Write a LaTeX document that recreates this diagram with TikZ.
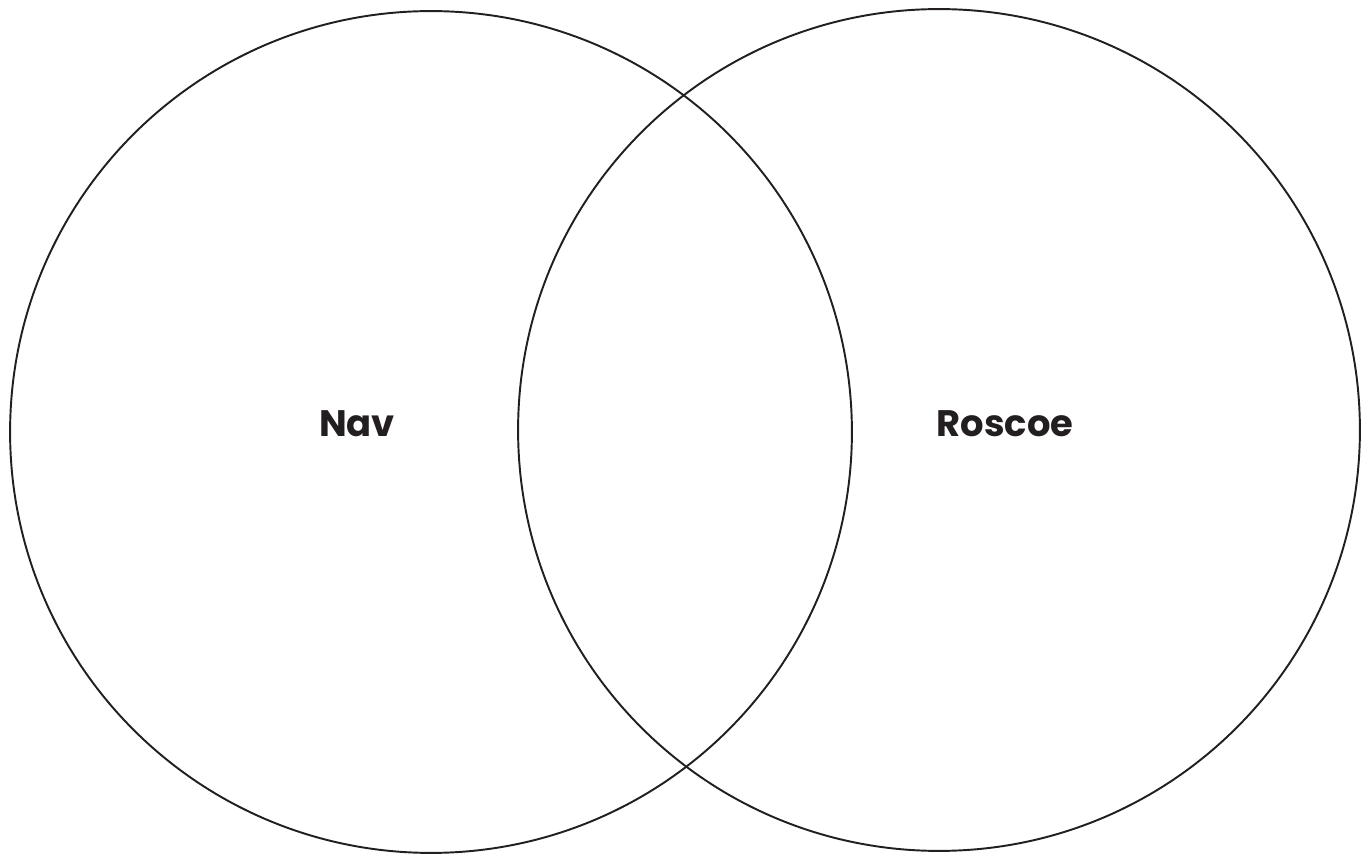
\documentclass[tikz,border=0pt]{standalone}
\usepackage{fontspec}
\setmainfont{Poppins}
\usetikzlibrary{positioning}
\definecolor{ink}{HTML}{231F20}
\tikzset{
    setcircle/.style={circle, draw=ink, line width=1.1pt, minimum size=16.84cm, inner sep=0pt},
    setlabel/.style={font=\fontsize{21}{24}\selectfont\bfseries, text=ink}
}
\begin{document}
\begin{tikzpicture}[x=0.02cm, y=-0.02cm]
    \useasboundingbox (0,0) rectangle (1370,854);
    % Sets
    \node[setcircle] (nav) at (431,432) {};
    \node[setcircle] (roscoe) at (939,430) {};
    % Labels
    \node[setlabel] (navlabel) at (357,424) {Nav};
    \node[setlabel] (roscoelabel) at (1005,424) {Roscoe};
\end{tikzpicture}
\end{document}
